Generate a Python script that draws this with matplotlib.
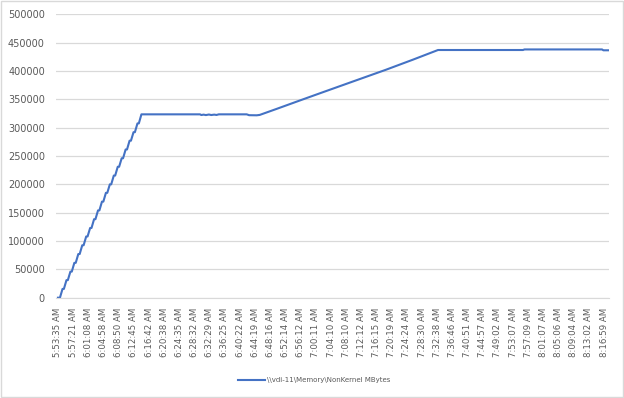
import matplotlib
matplotlib.use("Agg")
import matplotlib.pyplot as plt
from matplotlib.patches import Rectangle

# category labels shown on the x axis (every k-th sample)
time_labels = ["5:53:35 AM", "5:57:21 AM", "6:01:08 AM", "6:04:58 AM", "6:08:50 AM",
               "6:12:45 AM", "6:16:42 AM", "6:20:38 AM", "6:24:35 AM", "6:28:32 AM",
               "6:32:29 AM", "6:36:25 AM", "6:40:22 AM", "6:44:19 AM", "6:48:16 AM",
               "6:52:14 AM", "6:56:12 AM", "7:00:11 AM", "7:04:10 AM", "7:08:10 AM",
               "7:12:12 AM", "7:16:15 AM", "7:20:19 AM", "7:24:24 AM", "7:28:30 AM",
               "7:32:38 AM", "7:36:46 AM", "7:40:51 AM", "7:44:57 AM", "7:49:02 AM",
               "7:53:07 AM", "7:57:09 AM", "8:01:07 AM", "8:05:06 AM", "8:09:04 AM",
               "8:13:02 AM", "8:16:59 AM"]

# staircase ramp: plateau levels and where each plateau starts/ends (label units)
ramp_levels = [0, 15500, 31000, 46000, 61500, 77000, 92500, 108000, 123000, 138500,
               154000, 169500, 185000, 200000, 215500, 231000, 246000, 261500,
               277000, 292000, 307500, 323500]
ramp_start = [0.00, 0.30, 0.56, 0.82, 1.08, 1.34, 1.60, 1.86, 2.12, 2.38, 2.64,
              2.90, 3.16, 3.42, 3.68, 3.94, 4.20, 4.46, 4.72, 4.98, 5.24, 5.50]
ramp_end = [0.13, 0.39, 0.65, 0.91, 1.17, 1.43, 1.69, 1.95, 2.21, 2.47, 2.73,
            2.99, 3.25, 3.51, 3.77, 4.03, 4.29, 4.55, 4.81, 5.07, 5.33, 5.50]

# remainder of the series (label units, MBytes)
rest_x = [9.36, 9.45, 9.60, 9.75, 9.95, 10.10, 10.30, 10.45, 10.60, 12.44, 12.60,
          13.10, 13.30, 14.40, 16.00, 17.30, 19.50, 21.60, 23.40, 25.05, 30.65,
          30.75, 35.86, 35.95, 36.26]
rest_y = [323500, 322300, 323000, 322200, 323200, 322300, 323000, 322400, 323500,
          323500, 322000, 321800, 322500, 333000, 348500, 361000, 382000, 402000,
          420000, 437000, 437000, 438000, 438000, 436500, 436500]

series_name = "\\\\vdi-11\\Memory\\NonKernel MBytes"

xs, ys = [], []
for lv, a, b in zip(ramp_levels, ramp_start, ramp_end):
    xs += [a, b]
    ys += [lv, lv]
xs += rest_x
ys += rest_y

fig = plt.figure(figsize=(6.24, 3.98), dpi=100)
ax = fig.add_axes([56/624, 1 - 297.7/398, (609 - 56)/624, (297.7 - 14.3)/398])

ax.plot(xs, ys, color="#4472C4", lw=1.5, label=series_name)

ax.set_ylim(0, 500000)
ax.set_yticks(range(0, 500001, 50000))
ax.set_xlim(-0.13, 36.32)
ax.set_xticks(range(len(time_labels)))
ax.set_xticklabels(time_labels, rotation=90, fontsize=6.2, color="#595959")
ax.tick_params(axis="y", labelsize=7, labelcolor="#595959", length=0, pad=8)
ax.tick_params(axis="x", length=0, pad=7.5)
ax.grid(axis="y", color="#d9d9d9", lw=0.9)
ax.set_axisbelow(True)
for s in ["top", "right", "left"]:
    ax.spines[s].set_visible(False)
ax.spines["bottom"].set_color("#d9d9d9")

fig.legend(loc="center", bbox_to_anchor=(0.503, 0.045), frameon=False,
           fontsize=5, labelcolor="#595959", handlelength=3.9, handletextpad=0.3)

# chart area border
fig.patches.append(Rectangle((0.5/624, 1.5/398), 622.5/624, 396/398, transform=fig.transFigure,
                             fill=False, edgecolor="#d9d9d9", lw=1))

fig.savefig("out.png", dpi=100)
